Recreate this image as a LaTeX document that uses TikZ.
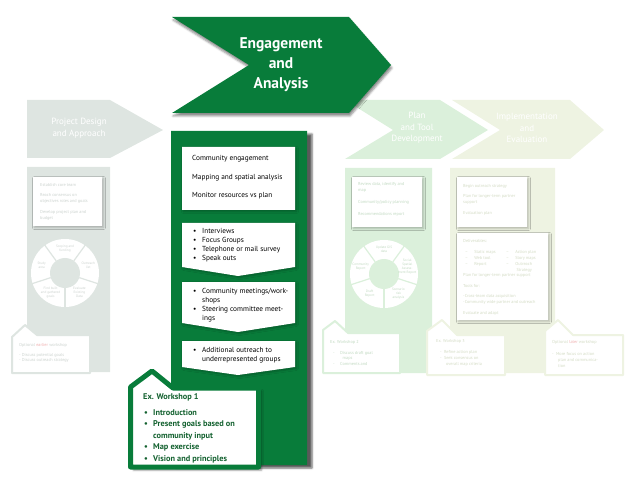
\documentclass[tikz,border=0pt]{standalone}
\usepackage{fontspec}
\usepackage{tkz-euclide}
\usetikzlibrary{shadows.blur}
\setmainfont{PT Sans}

\definecolor{engGreen}{RGB}{8,124,58}
\definecolor{wsGreen}{RGB}{20,98,48}
\definecolor{designGrey}{RGB}{222,229,225}
\definecolor{designText}{RGB}{204,211,207}
\definecolor{planGreen}{RGB}{219,240,219}
\definecolor{planText}{RGB}{194,218,194}
\definecolor{implOlive}{RGB}{238,243,226}
\definecolor{implText}{RGB}{212,220,197}
\definecolor{earlierRed}{RGB}{240,176,176}

\newcommand{\itm}[1]{\makebox[9pt][l]{\textbullet}#1}
\newcommand{\itmcont}[1]{\hspace*{9pt}#1}

\tikzset{
  bigtitle/.style={text=white, align=center, font=\bfseries\fontsize{15.5}{20}\selectfont},
  arrowtitle/.style={text=white, align=center, font=\fontsize{9}{11.5}\selectfont},
  boxtext/.style={anchor=west, inner sep=0pt, align=left, font=\fontsize{7.3}{9}\selectfont},
  wstext/.style={anchor=west, inner sep=0pt, align=left, text=wsGreen, font=\bfseries\fontsize{8.3}{11.5}\selectfont},
  fadetext/.style={anchor=west, inner sep=0pt, align=left, font=\fontsize{4.3}{5.6}\selectfont},
  ringtext/.style={inner sep=0pt, align=center, font=\fontsize{3.4}{4}\selectfont},
  whitebox/.style={draw=none, fill=white, blur shadow={shadow xshift=1.5pt, shadow yshift=-1.5pt, shadow opacity=25}},
}

\begin{document}
\begin{tikzpicture}[x=1pt, y=-1pt]
\useasboundingbox (0,0) rectangle (640,489);

% faded step: project design
\tkzDefPoints{27/100/D1, 110/100/D2, 163/130/D3, 110/158/D4, 27/158/D5}
\tkzDrawPolygon[draw=none, fill=designGrey](D1,D2,D3,D4,D5)
\node[arrowtitle] (design) at (79,128) {Project Design\\and Approach};
\tkzDefPoints{27/167/DC1, 110/167/DC2, 110/372/DC3, 27/372/DC4}
\tkzDrawPolygon[draw=none, fill=designGrey](DC1,DC2,DC3,DC4)
\tkzDefPoints{33/177/DB1, 102/177/DB2, 102/226/DB3, 33/226/DB4}
\tkzDrawPolygon[whitebox](DB1,DB2,DB3,DB4)
\node[fadetext, text=designText] (d1) at (40,185) {Establish core team};
\node[fadetext, text=designText] (d2) at (40,198.5) {Reach consensus on\\objectives roles and goals};
\node[fadetext, text=designText] (d3) at (40,215.5) {Develop project plan and\\budget};
\coordinate (DR) at (65,273);
\fill[white] (DR) circle[radius=34];
\fill[designGrey] (DR) circle[radius=15];
\foreach \a in {18,90,162,234,306}
  \draw[designGrey, line width=1.2pt] (DR) ++(\a:15) -- ++(\a:19.5);
\path (DR) ++(270:24.5) node[ringtext, text=designText] (dr1) {Scoping and\\funding};
\path (DR) ++(342:24.5) node[ringtext, text=designText] (dr2) {Outreach\\list};
\path (DR) ++(54:24.5) node[ringtext, text=designText] (dr3) {Evaluate\\Existing\\Data};
\path (DR) ++(126:24.5) node[ringtext, text=designText] (dr4) {Find built\\and gathered\\goals};
\path (DR) ++(198:24.5) node[ringtext, text=designText] (dr5) {Study\\area};
\tkzDefPoints{12/337/W1, 25/325/W2, 37/335/W3, 90/335/W4, 90/373/W5, 12/373/W6}
\tkzDrawPolygon[draw=designGrey, line width=2pt, fill=white](W1,W2,W3,W4,W5,W6)
\node[fadetext, text=designText] (w0t) at (19,345) {Optional \textcolor{earlierRed}{earlier} workshop};
\node[fadetext, text=designText] (w0l) at (19,358) {- Discuss potential goals\\- Discuss outreach strategy};

% faded step: plan and tool development
\tkzDefPoints{345/100/P1, 440/100/P2, 488/130/P3, 440/159/P4, 345/159/P5, 393/130/P6}
\tkzDrawPolygon[draw=none, fill=planGreen](P1,P2,P3,P4,P5,P6)
\node[arrowtitle] (plan) at (417,128) {Plan\\and Tool\\Development};
\tkzDefPoints{345/168/PC1, 432/168/PC2, 432/373/PC3, 345/373/PC4}
\tkzDrawPolygon[draw=none, fill=planGreen](PC1,PC2,PC3,PC4)
\tkzDefPoints{352/177/PB1, 422/177/PB2, 422/227/PB3, 352/227/PB4}
\tkzDrawPolygon[whitebox](PB1,PB2,PB3,PB4)
\node[fadetext, text=planText] (p1) at (358,187.5) {Review data, identify and\\map};
\node[fadetext, text=planText] (p2) at (358,202) {Community/policy planning};
\node[fadetext, text=planText] (p3) at (358,214) {Recommendations report};
\coordinate (PR) at (384,274);
\fill[white] (PR) circle[radius=34];
\fill[planGreen] (PR) circle[radius=15];
\foreach \a in {18,90,162,234,306}
  \draw[planGreen, line width=1.2pt] (PR) ++(\a:15) -- ++(\a:19.5);
\path (PR) ++(270:24.5) node[ringtext, text=planText] (pr1) {Update GIS\\data};
\path (PR) ++(342:24.5) node[ringtext, text=planText] (pr2) {Social\\Spatial\\Assess-\\ment Report};
\path (PR) ++(54:24.5) node[ringtext, text=planText] (pr3) {Scenario\\risk\\analysis};
\path (PR) ++(126:24.5) node[ringtext, text=planText] (pr4) {Draft\\Report};
\path (PR) ++(198:24.5) node[ringtext, text=planText] (pr5) {Community\\Report};
\tkzDefPoints{323/330/X1, 335/321/X2, 348/333/X3, 400/333/X4, 400/373/X5, 323/373/X6}
\tkzDrawPolygon[draw=planGreen, line width=2pt, fill=white](X1,X2,X3,X4,X5,X6)
\node[fadetext, text=planText] (w2t) at (330,342) {Ex. Workshop 2};
\node[fadetext, text=planText] (w2l) at (333,358.5) {- \quad Discuss draft goal\\\hspace*{9.5pt}maps\\- \quad Comments and};

% faded step: implementation and evaluation
\tkzDefPoints{452/100/I1, 570/100/I2, 604/130/I3, 570/159/I4, 452/159/I5, 500/130/I6}
\tkzDrawPolygon[draw=none, fill=implOlive](I1,I2,I3,I4,I5,I6)
\node[arrowtitle] (impl) at (527,128) {Implementation\\and\\Evaluation};
\tkzDefPoints{450/168/IC1, 555/168/IC2, 555/373/IC3, 450/373/IC4}
\tkzDrawPolygon[draw=none, fill=implOlive](IC1,IC2,IC3,IC4)
\tkzDefPoints{457/177/IB1, 527/177/IB2, 527/227/IB3, 457/227/IB4}
\tkzDrawPolygon[whitebox](IB1,IB2,IB3,IB4)
\node[fadetext, text=implText] (i1) at (463,186) {Begin outreach strategy};
\node[fadetext, text=implText] (i2) at (463,199.5) {Plan for longer-term partner\\support};
\node[fadetext, text=implText] (i3) at (463,213) {Evaluation plan};
\tkzDefPoints{457/233/IB5, 548/233/IB6, 548/320/IB7, 457/320/IB8}
\tkzDrawPolygon[whitebox](IB5,IB6,IB7,IB8)
\node[fadetext, text=implText] (deliv) at (463,241) {Deliverables:};
\node[fadetext, text=implText, font=\fontsize{4.3}{6}\selectfont] (dl) at (465,258) {– \hspace{4pt} Static maps\\– \hspace{4pt} Web tool\\– \hspace{4pt} Report};
\node[fadetext, text=implText, font=\fontsize{4.3}{6}\selectfont] (dr) at (506,261) {– \hspace{4pt} Action plan\\– \hspace{4pt} Story maps\\– \hspace{4pt} Outreach\\\hspace*{10.5pt}Strategy};
\node[fadetext, text=implText] (i4) at (463,275) {Plan for longer-term partner support};
\node[fadetext, text=implText] (i5) at (463,286) {Tools for:};
\node[fadetext, text=implText] (i6) at (463,299.5) {-Cross-team data acquisition\\-Community wide partner and outreach};
\node[fadetext, text=implText] (i7) at (463,313) {Evaluate and adapt};
\tkzDefPoints{427/331/Y1, 442/320/Y2, 457/335/Y3, 505/335/Y4, 505/375/Y5, 427/375/Y6}
\tkzDrawPolygon[draw=implOlive, line width=2pt, fill=white](Y1,Y2,Y3,Y4,Y5,Y6)
\node[fadetext, text=implText] (w3t) at (436,341) {Ex. Workshop 3};
\node[fadetext, text=implText] (w3l) at (440,358.5) {- \ Refine action plan\\- \ Seek consensus on\\\hspace*{6pt}overall map criteria};
\tkzDefPoints{545/331/Z1, 558/320/Z2, 573/335/Z3, 623/335/Z4, 623/375/Z5, 545/375/Z6}
\tkzDrawPolygon[draw=implOlive, line width=2pt, fill=white](Z1,Z2,Z3,Z4,Z5,Z6)
\node[fadetext, text=implText] (w4t) at (552,342) {Optional \textcolor{earlierRed}{later} workshop};
\node[fadetext, text=implText] (w4l) at (552,360) {- \ More focus on action\\\hspace*{6pt}plan and communica-\\\hspace*{6pt}tion};

% active step: engagement and analysis
\tkzDefPoints{172/17/E1, 349/17/E2, 391/65/E3, 349/113/E4, 172/113/E5, 249/65/E6}
\tkzDrawPolygon[draw=none, fill=engGreen, blur shadow={shadow xshift=1pt, shadow yshift=-3pt, shadow opacity=45}](E1,E2,E3,E4,E5,E6)
\node[bigtitle] (title) at (281,65) {Engagement\\and\\Analysis};
\tkzDefPoints{171/131/C1, 307/131/C2, 307/465/C3, 171/465/C4}
\tkzDrawPolygon[draw=none, fill=engGreen, blur shadow={shadow xshift=5pt, shadow yshift=-3pt, shadow opacity=65}](C1,C2,C3,C4)
\tkzDefPoints{182/147/B1, 295/147/B2, 295/210/B3, 182/210/B4}
\tkzDrawPolygon[whitebox](B1,B2,B3,B4)
\node[boxtext] (ce) at (192,159) {Community engagement};
\node[boxtext] (ms) at (192,178) {Mapping and spatial analysis};
\node[boxtext] (mr) at (192,196) {Monitor resources vs plan};
\tkzDefPoints{182/223/B5, 295/223/B6, 295/267/B7, 238/276/B8, 182/267/B9}
\tkzDrawPolygon[whitebox](B5,B6,B7,B8,B9)
\node[boxtext] (methods) at (193,245.5) {\itm{Interviews}\\\itm{Focus Groups}\\\itm{Telephone or mail survey}\\\itm{Speak outs}};
\tkzDefPoints{182/282/B10, 295/282/B11, 295/323/B12, 238/332/B13, 182/323/B14}
\tkzDrawPolygon[whitebox](B10,B11,B12,B13,B14)
\node[boxtext] (meetings) at (193,305) {\itm{Community meetings/work-}\\\itmcont{shops}\\\itm{Steering committee meet-}\\\itmcont{ings}};
\tkzDefPoints{182/341/B15, 295/341/B16, 295/367/B17, 238/375/B18, 182/367/B19}
\tkzDrawPolygon[whitebox](B15,B16,B17,B18,B19)
\node[boxtext] (outreach) at (193,355.5) {\itm{Additional outreach to}\\\itmcont{underrepresented groups}};

% workshop 1
\tkzDefPoints{130.5/387/K1, 152/371/K2, 173/388/K3, 258.5/388/K4, 258.5/467/K5, 130.5/467/K6}
\tkzDrawPolygon[draw=engGreen, line width=5pt, fill=white, blur shadow={shadow xshift=3pt, shadow yshift=-3pt, shadow opacity=45}](K1,K2,K3,K4,K5,K6)
\node[wstext] (ws1) at (143,397) {Ex. Workshop 1};
\node[wstext] (ws1list) at (144,436) {\itm{Introduction}\\\itm{Present goals based on}\\\itmcont{community input}\\\itm{Map exercise}\\\itm{Vision and principles}};
\end{tikzpicture}
\end{document}
